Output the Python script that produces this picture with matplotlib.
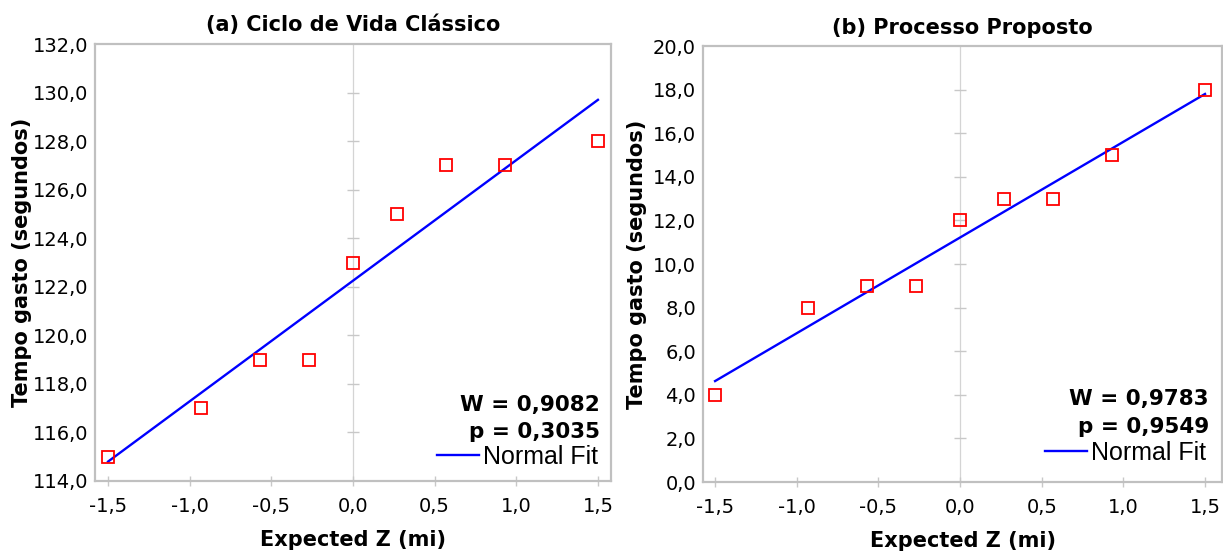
import numpy as np
import matplotlib
matplotlib.use("Agg")
import matplotlib.pyplot as plt
from matplotlib.ticker import FuncFormatter, FixedLocator
from matplotlib.lines import Line2D

# ---- data ----
z_expected = [-1.5, -0.93, -0.57, -0.27, 0.0, 0.27, 0.57, 0.93, 1.5]
tempo_classico = [115, 117, 119, 119, 123, 125, 127, 127, 128]
tempo_proposto = [4, 8, 9, 9, 12, 13, 13, 15, 18]
fit_x = [-1.5, 1.5]
fit_classico = [114.8, 129.7]
fit_proposto = [4.63, 17.8]
titles = ["(a) Ciclo de Vida Clássico", "(b) Processo Proposto"]
stats_classico = ["W = 0,9082", "p = 0,3035"]
stats_proposto = ["W = 0,9783", "p = 0,9549"]
x_ticks = [-1.5, -1.0, -0.5, 0.0, 0.5, 1.0, 1.5]
y_ticks_classico = [114, 116, 118, 120, 122, 124, 126, 128, 130, 132]
y_ticks_proposto = [0, 2, 4, 6, 8, 10, 12, 14, 16, 18, 20]

W, H = 1223, 554
fig = plt.figure(figsize=(W / 100, H / 100), dpi=100)
plt.rcParams['font.family'] = ['DejaVu Sans']

SPINE = '#c0c0c0'
TICKC = '#c8c8c8'


def comma(v, pos=None):
    return f"{v:.1f}".replace('.', ',').replace('\u2212', '-')


def panel(rect, y, fit, yticks, title, stats, xlim, stat_pos, leg_pos, ylpad):
    ax = fig.add_axes(rect)
    ax.set_xlim(*xlim)
    ax.set_ylim(yticks[0], yticks[-1])
    ax.axvline(0, color='#d4d4d4', lw=0.9, zorder=1)
    inner = yticks[1:-1]
    ax.plot(np.zeros(len(inner)), inner, ls='none', marker='_', ms=9,
            mew=1.0, color=TICKC, zorder=1)
    ax.plot(fit_x, fit, color='#0000ff', lw=1.7, zorder=3)
    ax.plot(z_expected, y, ls='none', marker='s', ms=8.7, mfc='none',
            mec='#ff0000', mew=1.3, zorder=4)
    for s in ax.spines.values():
        s.set_color(SPINE)
        s.set_linewidth(1.6)
    ax.xaxis.set_major_locator(FixedLocator(x_ticks))
    ax.yaxis.set_major_locator(FixedLocator(yticks))
    ax.xaxis.set_major_formatter(FuncFormatter(comma))
    ax.yaxis.set_major_formatter(FuncFormatter(comma))
    ax.tick_params(axis='x', direction='inout', length=7, width=1.0,
                   color=TICKC, labelsize=14, pad=8)
    ax.tick_params(axis='y', length=0, labelsize=14, pad=5)
    ax.set_title(title, fontsize=15, fontweight='bold', pad=9)
    ax.set_xlabel("Expected Z (mi)", fontsize=15, fontweight='bold', labelpad=10)
    ax.set_ylabel("Tempo gasto (segundos)", fontsize=15, fontweight='bold',
                  labelpad=ylpad)
    ax.text(stat_pos[0], stat_pos[1], stats[0], transform=ax.transAxes,
            ha='right', va='center', fontsize=15.5, fontweight='bold')
    ax.text(stat_pos[0], stat_pos[2], stats[1], transform=ax.transAxes,
            ha='right', va='center', fontsize=15.5, fontweight='bold')
    h = Line2D([], [], color='#0000ff', lw=1.7)
    ax.legend([h], ["Normal Fit"], loc='center right', bbox_to_anchor=leg_pos,
              frameon=False, borderpad=0, borderaxespad=0, handlelength=1.7,
              handletextpad=0.15,
              prop={'family': 'Liberation Sans', 'size': 18})
    return ax


panel([95 / W, 1 - 481 / H, 516 / W, 437 / H], tempo_classico, fit_classico,
      y_ticks_classico, titles[0], stats_classico, (-1.58, 1.58),
      (0.979, 0.174, 0.112), (0.975, 0.055), 0.5)
panel([703 / W, 1 - 482 / H, 519 / W, 436 / H], tempo_proposto, fit_proposto,
      y_ticks_proposto, titles[1], stats_proposto, (-1.574, 1.604),
      (0.975, 0.190, 0.126), (0.969, 0.067), 4)

fig.savefig("out.png", dpi=100)
